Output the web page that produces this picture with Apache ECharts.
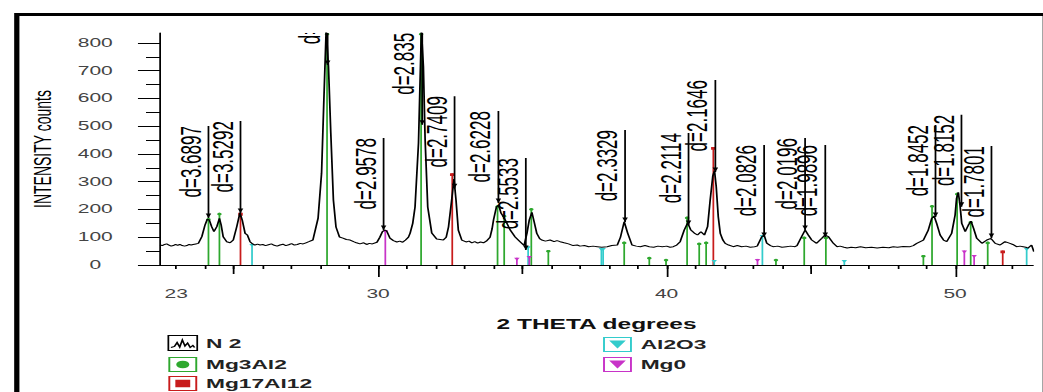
<!DOCTYPE html>
<html>
<head>
<meta charset="utf-8">
<script src="https://cdn.jsdelivr.net/npm/echarts@6/dist/echarts.min.js"></script>
<style>
html, body { margin: 0; padding: 0; background: #fff; overflow: hidden; }
/* the picture is stretched sideways, so the chart is drawn narrow and scaled */
#xrd { width: 596px; height: 392px; transform: scaleX(1.75); transform-origin: 0 0; }
</style>
</head>
<body>
<div id="xrd"></div>
<script>
// measured pattern N 2: [2theta, counts]
var curveN2 = [
  [22.44,72],[22.52,70],[22.6,74],[22.67,76],[22.75,72],[22.83,68],[22.9,70],[22.98,74],[23.05,71],[23.13,74],
  [23.21,70],[23.29,68],[23.37,70],[23.45,74],[23.52,72],[23.59,74],[23.68,76],[23.77,78],[23.89,102],[24.0,144],
  [24.08,165],[24.15,162],[24.23,138],[24.31,120],[24.41,138],[24.5,168],[24.56,144],[24.63,102],[24.75,84],[24.87,80],
  [24.98,90],[25.1,138],[25.21,188],[25.29,162],[25.39,114],[25.47,108],[25.56,84],[25.65,76],[25.73,72],[25.82,75],
  [25.91,72],[26.0,74],[26.1,70],[26.2,73],[26.3,76],[26.4,71],[26.5,68],[26.6,72],[26.7,75],[26.8,70],
  [26.9,73],[27.0,77],[27.1,72],[27.2,74],[27.3,78],[27.4,76],[27.5,80],[27.6,84],[27.74,90],[27.92,169],
  [28.04,331],[28.12,595],[28.2,850],[28.28,714],[28.36,476],[28.45,234],[28.54,137],[28.66,101],[28.78,97],[28.9,92],
  [29.03,90],[29.15,84],[29.25,80],[29.37,76],[29.5,80],[29.6,74],[29.7,78],[29.8,76],[29.96,82],[30.06,100],
  [30.15,120],[30.24,126],[30.3,122],[30.41,97],[30.53,88],[30.65,83],[30.75,86],[30.85,82],[30.95,90],[31.05,100],
  [31.11,115],[31.2,150],[31.28,209],[31.4,440],[31.5,850],[31.57,714],[31.63,450],[31.72,209],[31.86,115],[32.03,94],
  [32.15,92],[32.26,90],[32.36,100],[32.44,137],[32.55,234],[32.63,310],[32.7,234],[32.78,126],[32.9,90],[33.05,83],
  [33.15,86],[33.25,80],[33.35,84],[33.45,79],[33.55,83],[33.65,80],[33.75,86],[33.88,100],[33.95,130],[34.0,162],
  [34.1,209],[34.18,216],[34.26,187],[34.35,173],[34.44,155],[34.58,126],[34.75,101],[34.92,84],[35.06,70],[35.16,115],
  [35.24,162],[35.33,190],[35.41,155],[35.5,114],[35.6,95],[35.67,90],[35.8,86],[35.96,90],[36.1,84],[36.2,88],
  [36.31,84],[36.45,80],[36.6,76],[36.76,70],[36.9,72],[37.0,68],[37.15,70],[37.3,66],[37.45,68],[37.6,66],
  [37.75,64],[37.94,66],[38.1,70],[38.29,72],[38.4,100],[38.53,156],[38.65,115],[38.8,72],[38.95,68],[39.09,66],
  [39.25,70],[39.4,66],[39.55,64],[39.7,68],[39.85,66],[40.0,68],[40.12,64],[40.23,66],[40.35,72],[40.47,84],
  [40.61,126],[40.73,152],[40.84,126],[40.96,115],[41.07,108],[41.19,120],[41.31,108],[41.42,138],[41.51,234],[41.6,320],
  [41.66,340],[41.72,282],[41.79,174],[41.86,114],[41.95,90],[42.03,78],[42.15,72],[42.31,66],[42.45,70],[42.6,66],
  [42.75,68],[42.9,64],[43.05,66],[43.14,68],[43.3,102],[43.38,108],[43.47,79],[43.6,70],[43.69,66],[43.85,68],
  [44.0,64],[44.15,66],[44.3,68],[44.45,66],[44.52,70],[44.68,102],[44.8,126],[44.91,108],[45.03,90],[45.2,78],
  [45.38,96],[45.49,108],[45.61,102],[45.78,78],[45.91,66],[46.01,68],[46.15,64],[46.26,61],[46.4,64],[46.55,62],
  [46.72,66],[46.9,62],[47.1,64],[47.3,61],[47.5,64],[47.7,62],[47.86,66],[48.0,64],[48.2,67],[48.44,66],
  [48.55,70],[48.67,78],[48.9,90],[49.07,126],[49.19,168],[49.27,177],[49.36,150],[49.48,108],[49.6,90],[49.71,84],
  [49.88,114],[50.0,180],[50.05,240],[50.11,262],[50.17,215],[50.23,150],[50.35,120],[50.46,144],[50.55,158],[50.64,132],
  [50.75,96],[50.93,78],[51.1,90],[51.24,96],[51.39,78],[51.56,72],[51.73,84],[51.9,78],[52.0,74],[52.13,66],
  [52.25,68],[52.36,66],[52.45,64],[52.53,61],[52.65,72],[52.73,48]
];

// labelled peaks: arrow tip [2theta, counts] and its d-spacing text
var peakMarks = [
  [24.12,169],[25.23,187],[28.25,721],[30.19,126],[31.53,505],[32.65,277],[34.17,223],[35.12,54],[38.56,155],
  [40.76,144],[41.69,335],[43.38,101],[44.8,126],[45.5,101],[49.32,173],[50.22,210],[51.26,97]
];
var peakLabels = [
  'd=3.6897','d=3.5292','d=3.1565','d=2.9578','d=2.835','d=2.7409','d=2.6228','d=2.5533','d=2.3329',
  'd=2.2114','d=2.1646','d=2.0826','d=2.0196','d=1.9896','d=1.8452','d=1.8152','d=1.7801'
];

// reference sticks per phase: [2theta, counts]
var sticksMg3Al2 = [
  [24.12,169],[24.5,188],[28.23,836],[31.49,836],[34.14,215],[34.37,180],[35.31,205],[35.9,54],[38.53,84],
  [39.4,29],[39.98,22],[40.71,174],[41.13,80],[41.37,84],[43.79,22],[44.77,102],[45.52,102],[48.9,36],
  [49.2,216],[50.07,260],[50.54,158],[51.13,84]
];
var sticksMg17Al12 = [[25.23,188],[32.57,331],[41.62,425],[51.65,52]];
var sticksAl2O3 = [[25.63,76],[35.2,68],[37.74,61],[37.8,61],[41.65,18],[43.32,108],[46.16,18],[52.48,61]];
var sticksMgO = [[30.25,126],[34.81,26],[35.24,32],[43.15,22],[50.32,52],[50.66,36]];

var xTickLabels = [23, 30, 40, 50];
var xMinorTicks = [23,24,25,26,27,28,29,30,31,32,33,34,35,36,37,38,39,40,41,42,43,44,45,46,47,48,49,50,51,52];
var xMidTicks = [25, 35, 45];
var xMajorTicks = [30, 40, 50];
var yTickLabels = [0, 100, 200, 300, 400, 500, 600, 700, 800];
var yMinorTicks = [50, 150, 250, 350, 450, 550, 650, 750];

var FONT = '"Liberation Sans", Arial, sans-serif';

// legend icons: coloured frame with the phase symbol inside
var frame = 'M0 0H33V30H0Z M2.2 2.2V27.8H30.8V2.2Z ';
var iconN2 = 'path://M0 0H33V30H0Z M3 24L7 22L10 14L13 23L16 9L19 21L22 15L25 24L28 20L30 24';
var iconCircle = 'path://' + frame + 'M9 15A7.5 7.5 0 1 0 24 15A7.5 7.5 0 1 0 9 15Z';
var iconSquare = 'path://' + frame + 'M8 7.5H25V22.5H8Z';
var iconTri = 'path://' + frame + 'M7 7H26L16.5 23Z';

function stickSeries(name, data, color, mark) {
  return {
    name: name,
    type: 'custom',
    data: data,
    encode: { x: 0, y: 1 },
    clip: true,
    z: 2,
    itemStyle: { color: color },
    renderItem: function (params, api) {
      var base = api.coord([api.value(0), 0]);
      var tip = api.coord([api.value(0), api.value(1)]);
      var c = api.visual('color');
      var head;
      if (mark === 'circle') {
        head = { type: 'circle', shape: { cx: tip[0], cy: tip[1] + 1.2, r: 1.3 }, style: { fill: c } };
      } else if (mark === 'square') {
        head = { type: 'rect', shape: { x: tip[0] - 1.3, y: tip[1], width: 2.6, height: 2.8 }, style: { fill: c } };
      } else {
        head = { type: 'polygon', shape: { points: [[tip[0] - 1.6, tip[1]], [tip[0] + 1.6, tip[1]], [tip[0], tip[1] + 3]] }, style: { fill: c } };
      }
      return {
        type: 'group',
        children: [
          { type: 'line', shape: { x1: base[0], y1: base[1], x2: tip[0], y2: tip[1] }, style: { stroke: c, lineWidth: 1 } },
          head
        ]
      };
    }
  };
}

var chart = echarts.init(document.getElementById('xrd'), null, { renderer: 'svg' });

var legendText = { fontFamily: FONT, fontWeight: 'bold', fontSize: 13, lineHeight: 15, color: '#222' };

var option = {
  animation: false,
  backgroundColor: '#fff',
  grid: { left: 91.43, right: 5.71, top: 33, bottom: 127 },
  xAxis: [
    {
      type: 'value', min: 22.44, max: 52.7, position: 'bottom',
      name: '2 THETA degrees', nameLocation: 'middle', nameGap: 52,
      nameTextStyle: { fontFamily: FONT, fontWeight: 'bold', fontSize: 14, color: '#111' },
      axisLine: { lineStyle: { color: '#000', width: 1 } },
      axisTick: { length: 4, customValues: xMinorTicks, lineStyle: { color: '#000' } },
      axisLabel: { customValues: xTickLabels, margin: 23, fontFamily: FONT, fontSize: 12, color: '#444' },
      splitLine: { show: false }
    },
    {
      type: 'value', min: 22.44, max: 52.7, position: 'bottom', offset: 0,
      axisLine: { show: false },
      axisTick: { length: 9, customValues: xMidTicks, lineStyle: { color: '#000' } },
      axisLabel: { show: false }, splitLine: { show: false }
    },
    {
      type: 'value', min: 22.44, max: 52.7, position: 'bottom', offset: 0,
      axisLine: { show: false },
      axisTick: { length: 12, customValues: xMajorTicks, lineStyle: { color: '#000' } },
      axisLabel: { show: false }, splitLine: { show: false }
    }
  ],
  yAxis: [
    {
      type: 'value', min: 0, max: 836, position: 'left',
      name: 'INTENSITY counts', nameLocation: 'middle', nameRotate: 90, nameGap: 60,
      nameTextStyle: { fontFamily: FONT, fontSize: 14, color: '#000' },
      axisLine: { show: true, lineStyle: { color: '#000', width: 1 } },
      axisTick: { show: true, length: 12.6, customValues: yTickLabels, lineStyle: { color: '#000' } },
      axisLabel: { customValues: yTickLabels, align: 'center', margin: 37, fontFamily: FONT, fontSize: 12, color: '#444' },
      splitLine: { show: false }
    },
    {
      type: 'value', min: 0, max: 836, position: 'left', offset: 0,
      axisLine: { show: false },
      axisTick: { show: true, length: 8, customValues: yMinorTicks, lineStyle: { color: '#000' } },
      axisLabel: { show: false }, splitLine: { show: false }
    }
  ],
  legend: [
    {
      orient: 'vertical', left: 93.7, top: 333, height: 80, padding: 0,
      itemWidth: 16.5, itemHeight: 15, itemGap: 4, selectedMode: false,
      textStyle: legendText,
      data: [
        { name: 'N 2', icon: iconN2, itemStyle: { color: 'none', borderColor: '#000', borderWidth: 1 } },
        { name: 'Mg3Al2', icon: iconCircle },
        { name: 'Mg17Al12', icon: iconSquare }
      ]
    },
    {
      orient: 'vertical', left: 344.6, top: 337, height: 60, padding: 0,
      itemWidth: 16.5, itemHeight: 15, itemGap: 5, selectedMode: false,
      textStyle: legendText,
      data: [
        { name: 'Al2O3', icon: iconTri },
        { name: 'Mg0', icon: iconTri }
      ]
    }
  ],
  graphic: [
    {
      // outer frame; its bottom edge lies below the picture
      type: 'rect', left: 7.1, top: 12, silent: true,
      shape: { width: 587.7, height: 400 },
      style: { fill: 'none', stroke: '#000', lineWidth: 3 }
    }
  ],
  series: [
    stickSeries('Mg3Al2', sticksMg3Al2, '#2ea82e', 'circle'),
    stickSeries('Mg17Al12', sticksMg17Al12, '#c81c1c', 'square'),
    stickSeries('Al2O3', sticksAl2O3, '#33cccc', 'tri'),
    stickSeries('Mg0', sticksMgO, '#c833c8', 'tri'),
    {
      name: 'N 2',
      type: 'line',
      data: curveN2,
      showSymbol: false,
      clip: true,
      z: 3,
      itemStyle: { color: '#000' },
      lineStyle: { color: '#000', width: 1 }
    },
    {
      name: 'peaks',
      type: 'custom',
      data: peakMarks,
      encode: { x: 0, y: 1 },
      clip: true,
      z: 4,
      renderItem: function (params, api) {
        var p = api.coord([api.value(0), api.value(1)]);
        var top = p[1] - 92;
        return {
          type: 'group',
          children: [
            { type: 'line', shape: { x1: p[0], y1: p[1], x2: p[0], y2: top }, style: { stroke: '#000', lineWidth: 1 } },
            { type: 'polygon', shape: { points: [[p[0] - 1.6, p[1] - 4.5], [p[0] + 1.6, p[1] - 4.5], [p[0], p[1]]] }, style: { fill: '#000' } },
            {
              type: 'text', x: p[0] - 2, y: top, rotation: Math.PI / 2,
              style: { text: peakLabels[params.dataIndex], font: '17px ' + FONT, fill: '#000', align: 'right', verticalAlign: 'bottom' }
            }
          ]
        };
      }
    }
  ]
};

chart.setOption(option);
</script>
</body>
</html>
